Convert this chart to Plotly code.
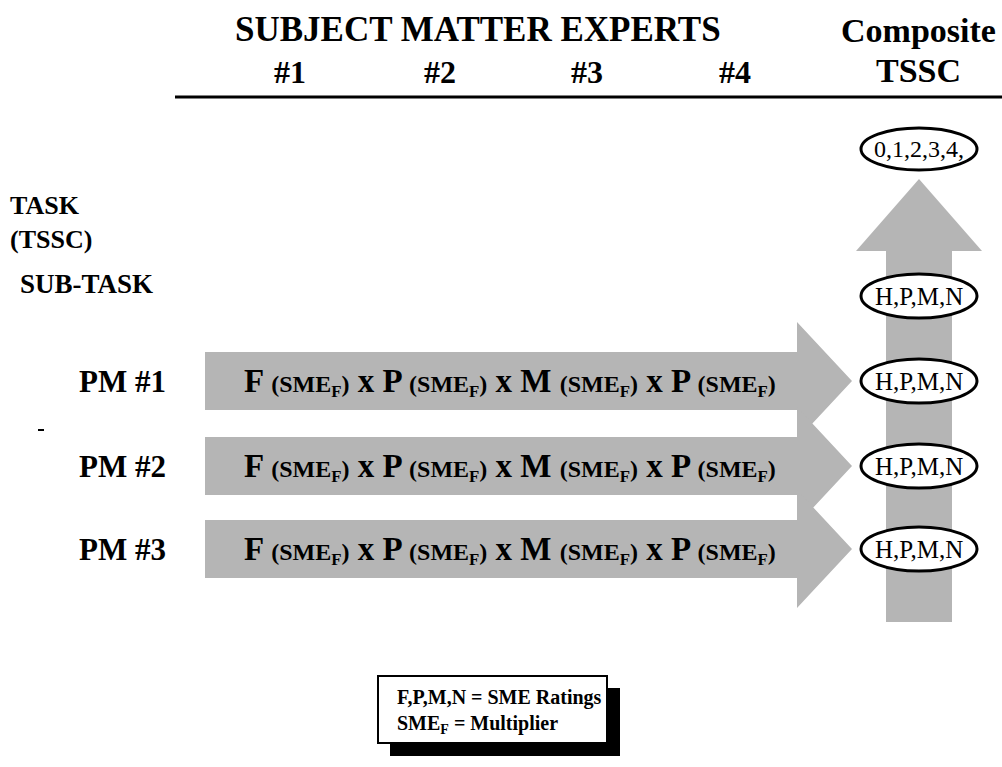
import plotly.graph_objects as go

# ---- content ----
header_title = "SUBJECT MATTER EXPERTS"
sme_labels = ["#1", "#2", "#3", "#4"]
composite_label = ["Composite", "TSSC"]
left_labels = ["TASK<br>(TSSC)", "SUB-TASK"]
pm_labels = ["PM #1", "PM #2", "PM #3"]
factor_letters = ["F", "P", "M", "P"]
ellipse_labels = ["0,1,2,3,4,", "H,P,M,N", "H,P,M,N", "H,P,M,N", "H,P,M,N"]
legend_lines = ["F,P,M,N = SME Ratings", "SME<sub>F</sub> = Multiplier"]

# ---- layout constants (pixels) ----
W, H = 1002, 767
FONT = "Liberation Serif, Times New Roman, serif"
GRAY = "#b5b5b5"
sme_x = [290, 440, 587, 735]
pm_y = [381, 466, 549]
ell_y = [149, 296, 381, 466, 549]
col_x = 919

shapes = []
ann = []

def text(x, y, s, size, bold=True, anchor="center", color="black"):
    ann.append(dict(x=x, y=y, xref="x", yref="y", text=(f"<b>{s}</b>" if bold else s),
                    showarrow=False, xanchor=anchor, yanchor="middle",
                    font=dict(family=FONT, size=size, color=color)))

# header
text(478, 29, header_title, 35)
for x, s in zip(sme_x, sme_labels):
    text(x, 72, s, 32)
text(918, 30, composite_label[0], 34)
text(918, 70, composite_label[1], 34)
shapes.append(dict(type="line", x0=175, x1=1002, y0=97, y1=97, xref="x", yref="y",
                   line=dict(color="black", width=3)))

# vertical composite arrow
sx0, sx1 = col_x - 33, col_x + 33
path = (f"M {sx0},622 L {sx0},251 L {col_x-63},251 L {col_x},179 L {col_x+63},251 "
        f"L {sx1},251 L {sx1},622 Z")
shapes.append(dict(type="path", path=path, xref="x", yref="y", fillcolor=GRAY,
                   line=dict(width=0), layer="below"))

# horizontal arrows
for y in pm_y:
    p = (f"M 205,{y-29} L 797,{y-29} L 797,{y-59} L 852,{y} L 797,{y+59} "
         f"L 797,{y+29} L 205,{y+29} Z")
    shapes.append(dict(type="path", path=p, xref="x", yref="y", fillcolor=GRAY,
                       line=dict(width=0), layer="below"))
    parts = []
    for L in factor_letters:
        parts.append(f"{L} <span style='font-size:24px'>(SME<sub>F</sub>)</span>")
    formula = " x ".join(parts)
    text(510, y + 1, formula, 33)

# ellipses
for i, (y, s) in enumerate(zip(ell_y, ellipse_labels)):
    hh = 21 if i == 0 else 22
    shapes.append(dict(type="circle", x0=col_x - 58, x1=col_x + 58, y0=y - hh, y1=y + hh,
                       xref="x", yref="y", fillcolor="white",
                       line=dict(color="black", width=3)))
    text(col_x, y, s, 24 if i == 0 else 25, bold=False)

# left labels
ann.append(dict(x=8, y=222, xref="x", yref="y", text="<b>TASK</b><br><b>(TSSC)</b>",
                showarrow=False, xanchor="left", yanchor="middle", align="left",
                font=dict(family=FONT, size=26, color="black")))
text(18, 284, left_labels[1], 27, anchor="left")
for y, s in zip(pm_y, pm_labels):
    text(77, y, s, 31, anchor="left")
shapes.append(dict(type="line", x0=38, x1=44, y0=430, y1=430, xref="x", yref="y",
                   line=dict(color="black", width=2)))

# legend box with shadow
shapes.append(dict(type="rect", x0=390, x1=620, y0=688, y1=756, xref="x", yref="y",
                   fillcolor="black", line=dict(width=0)))
shapes.append(dict(type="rect", x0=378, x1=607, y0=676, y1=743, xref="x", yref="y",
                   fillcolor="white", line=dict(color="black", width=2)))
text(395, 697, legend_lines[0], 20, anchor="left")
text(395, 724, legend_lines[1], 20, anchor="left")

fig = go.Figure()
fig.add_trace(go.Scatter(x=[0, W], y=[0, H], mode="markers", marker=dict(opacity=0),
                         hoverinfo="skip", showlegend=False))
fig.update_layout(width=W, height=H, margin=dict(l=0, r=0, t=0, b=0),
                  paper_bgcolor="white", plot_bgcolor="white",
                  xaxis=dict(range=[0, W], visible=False, fixedrange=True),
                  yaxis=dict(range=[H, 0], visible=False, fixedrange=True),
                  shapes=shapes, annotations=ann, showlegend=False)
fig.write_html("out.html", config={"displayModeBar": False},
               post_script="document.body.style.margin='0';document.body.style.overflow='hidden';")
